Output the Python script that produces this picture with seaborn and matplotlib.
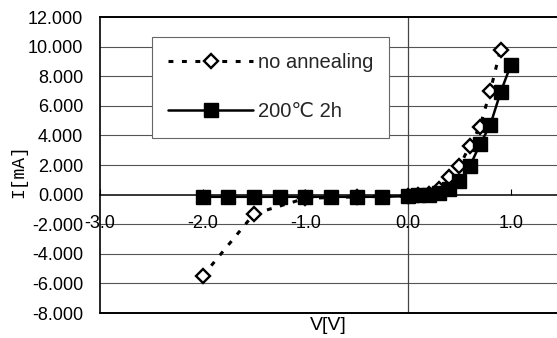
import matplotlib
matplotlib.use("Agg")
import matplotlib.pyplot as plt
from matplotlib.lines import Line2D
from matplotlib.ticker import FormatStrFormatter, FixedLocator
import seaborn as sns
import pandas as pd

# I-V characteristics
v_no_anneal = [-2.0, -1.5, -1.0, -0.5, 0.0, 0.1, 0.2, 0.3, 0.4, 0.5, 0.6, 0.7, 0.8, 0.9]
i_no_anneal = [-5.5, -1.3, -0.25, -0.15, -0.1, 0.0, 0.05, 0.4, 1.2, 1.9, 3.3, 4.6, 7.0, 9.8]

v_200c = [-2.0, -1.75, -1.5, -1.25, -1.0, -0.75, -0.5, -0.25, 0.0,
          0.1, 0.2, 0.3, 0.4, 0.5, 0.6, 0.7, 0.8, 0.9, 1.0]
i_200c = [-0.15, -0.15, -0.15, -0.15, -0.15, -0.15, -0.15, -0.15, -0.1,
          -0.05, 0.0, 0.1, 0.4, 0.9, 1.9, 3.4, 4.7, 6.9, 8.75]

labels = ["no annealing", "200\u2103 2h"]
x_ticks = [-3.0, -2.0, -1.0, 0.0, 1.0]
y_ticks = [-8, -6, -4, -2, 0, 2, 4, 6, 8, 10, 12]

sns.set_theme(style="white")
plt.rcParams["font.family"] = ["Liberation Sans", "DejaVu Sans", "Noto Sans CJK JP"]

fig = plt.figure(figsize=(5.57, 3.38), dpi=100)
ax = fig.add_axes([100 / 557, 25 / 338, 457 / 557, 296 / 338])

df_no = pd.DataFrame({"V": v_no_anneal, "I": i_no_anneal})
df_200 = pd.DataFrame({"V": v_200c, "I": i_200c})

# horizontal grid
for y in y_ticks:
    if y not in (0, -8, 12):
        ax.axhline(y, color="#555555", lw=0.8, zorder=0)
ax.axvline(0, color="#444444", lw=0.9, zorder=0.5)

no_style = dict(color="black", linestyle=(0, (1.6, 2.8)), lw=2.2,
                marker="D", markersize=7.5, markerfacecolor="white",
                markeredgecolor="black", markeredgewidth=1.7)
ann_style = dict(color="black", linestyle="-", lw=1.8,
                 marker="s", markersize=10, markerfacecolor="black",
                 markeredgecolor="black", markeredgewidth=1)

sns.lineplot(data=df_no, x="V", y="I", ax=ax, sort=False, estimator=None,
             zorder=3, **no_style)
sns.lineplot(data=df_200, x="V", y="I", ax=ax, sort=False, estimator=None,
             zorder=4, **ann_style)

ax.set_xlim(-3.0, 1.45)
ax.set_ylim(-8, 12)

# x axis runs along I = 0
ax.spines["bottom"].set_position(("data", 0))
ax.spines["bottom"].set_color("black")
ax.spines["bottom"].set_linewidth(1.1)
ax.spines["right"].set_visible(False)
ax.spines["top"].set_color("black")
ax.spines["top"].set_linewidth(1.4)
ax.spines["left"].set_color("black")
ax.spines["left"].set_linewidth(1.2)
ax.plot([0, 1], [0, 0], transform=ax.transAxes, color="black", lw=1.4,
        clip_on=False, zorder=5)

ax.xaxis.set_major_locator(FixedLocator(x_ticks))
ax.xaxis.set_major_formatter(FormatStrFormatter("%.1f"))
ax.yaxis.set_major_locator(FixedLocator(y_ticks))
ax.yaxis.set_major_formatter(FormatStrFormatter("%.3f"))
ax.tick_params(axis="x", direction="in", length=4, width=0.8, pad=15,
               labelsize=13, colors="black", bottom=True)
ax.tick_params(axis="y", length=0, pad=12, labelsize=13, colors="black")

ax.set_xlabel("V[V]", fontsize=14, color="black")
ax.xaxis.set_label_coords(0.5, -0.015)
ax.xaxis.label.set_verticalalignment("top")
ax.set_ylabel("I[mA]", fontsize=13, color="black", family="Liberation Mono")
ax.yaxis.set_label_coords(-0.16, 0.48)

handles = [Line2D([], [], **no_style), Line2D([], [], **ann_style)]
leg = ax.legend(handles, labels,
                loc="upper left", bbox_to_anchor=(0.114, 0.932),
                fontsize=14.5, frameon=True, fancybox=False, framealpha=1,
                edgecolor="#666666", handlelength=4.2, handletextpad=0.25,
                labelspacing=1.5, borderpad=0.8, borderaxespad=0, numpoints=1)
leg.get_frame().set_linewidth(0.8)
leg.set_zorder(6)

fig.savefig("out.png", dpi=100)
